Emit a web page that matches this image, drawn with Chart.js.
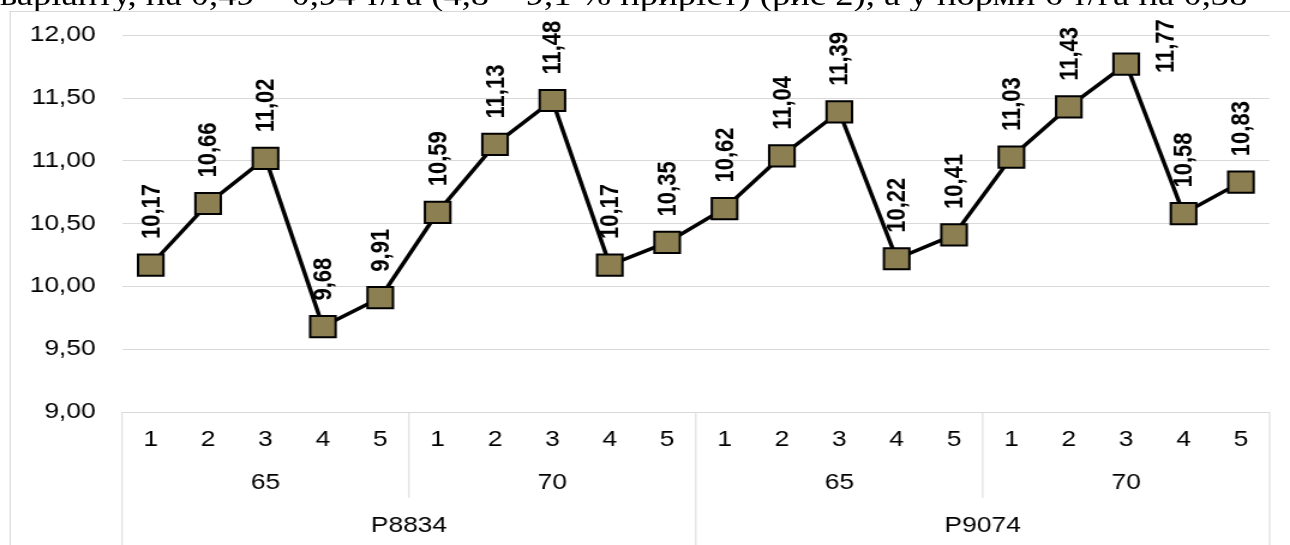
<!DOCTYPE html>
<html><head><meta charset="utf-8">
<script src="https://cdn.jsdelivr.net/npm/chart.js@4.4.1/dist/chart.umd.min.js"></script>
<style>
html,body{margin:0;padding:0;background:#fff;overflow:hidden;width:1290px;height:545px;}
#wrap{position:absolute;left:0;top:0;width:1075px;height:545px;transform:scaleX(1.2);transform-origin:0 0;overflow:hidden;}
#note{position:absolute;left:0;top:-20.5px;white-space:nowrap;font-family:"Liberation Serif","DejaVu Serif",serif;font-size:30.5px;line-height:30px;color:#000;}
#frame{position:absolute;left:8.3px;top:11px;width:1100px;height:600px;border-left:1px solid #d9d9d9;border-top:1px solid #d9d9d9;}
canvas{position:absolute;left:0;top:0;}
</style></head>
<body>
<div id="wrap">
  <div id="note">варіанту, на 0,49 – 0,94 т/га (4,8 – 9,1 % приріст) (рис 2), а у норми 6 т/га на 0,38</div>
  <div id="frame"></div>
  <canvas id="c" width="1075" height="545"></canvas>
</div>
<script>
const categories = ['1','2','3','4','5','1','2','3','4','5','1','2','3','4','5','1','2','3','4','5'];
const rates = ['65','70','65','70'];
const hybrids = ['P8834','P9074'];
const yields = [10.17,10.66,11.02,9.68,9.91, 10.59,11.13,11.48,10.17,10.35, 10.62,11.04,11.39,10.22,10.41, 11.03,11.43,11.77,10.58,10.83];
const yMin = 9, yMax = 12, yStep = 0.5;

const fmt = v => v.toFixed(2).replace('.', ',');
const FONT = '"Liberation Sans", Arial, sans-serif';

const groupAxis = {
  id: 'groupAxis',
  afterDraw(chart) {
    const ctx = chart.ctx, xs = chart.scales.x, ca = chart.chartArea;
    const top = ca.bottom, n = categories.length;
    const px = i => xs.getPixelForValue(i);
    const half = (px(1) - px(0)) / 2;
    const perRate = n / rates.length, perHybrid = n / hybrids.length;
    ctx.save();
    ctx.strokeStyle = '#d9d9d9'; ctx.lineWidth = 1;
    for (let b = 0; b <= n; b += perRate) {
      const x = b === 0 ? px(0) - half : (b === n ? px(n - 1) + half : (px(b - 1) + px(b)) / 2);
      const full = b % perHybrid === 0;
      ctx.beginPath();
      ctx.moveTo(x, top);
      ctx.lineTo(x, full ? chart.height : 498);
      ctx.stroke();
    }
    ctx.fillStyle = '#000';
    ctx.font = '22px ' + FONT;
    ctx.textAlign = 'center'; ctx.textBaseline = 'middle';
    categories.forEach((c, i) => ctx.fillText(c, px(i), 440));
    rates.forEach((r, g) => ctx.fillText(r, (px(g * perRate) + px(g * perRate + perRate - 1)) / 2, 483));
    hybrids.forEach((h, g) => ctx.fillText(h, (px(g * perHybrid) + px(g * perHybrid + perHybrid - 1)) / 2, 526));
    ctx.restore();
  }
};

const dataLabels = {
  id: 'dataLabels',
  afterDatasetsDraw(chart) {
    const ctx = chart.ctx;
    const meta = chart.getDatasetMeta(0);
    ctx.save();
    ctx.fillStyle = '#000';
    ctx.font = 'bold 22px ' + FONT;
    meta.data.forEach((pt, i) => {
      const txt = fmt(yields[i]);
      const w = ctx.measureText(txt).width;
      ctx.save();
      if (pt.y - 26 - w < 12) {
        // not enough room above: place to the right of the marker (as Excel does)
        ctx.translate(pt.x + 33, pt.y + 9);
      } else {
        ctx.translate(pt.x + 1, pt.y - 26);
      }
      ctx.rotate(-Math.PI / 2);
      ctx.textAlign = 'left'; ctx.textBaseline = 'middle';
      ctx.fillText(txt, 0, 0);
      ctx.restore();
    });
    ctx.restore();
  }
};

new Chart(document.getElementById('c'), {
  type: 'line',
  data: {
    labels: categories.map((c, i) => i),
    datasets: [{
      data: yields,
      borderColor: '#000',
      borderWidth: 3.5,
      tension: 0,
      pointStyle: 'rect',
      pointRadius: 15,
      pointBackgroundColor: '#8c7f52',
      pointBorderColor: '#000',
      pointBorderWidth: 2
    }]
  },
  options: {
    responsive: false,
    animation: false,
    layout: { padding: { top: 35, right: 12.5, left: 0, bottom: 0 } },
    plugins: { legend: { display: false }, tooltip: { enabled: false } },
    scales: {
      x: {
        type: 'category',
        offset: true,
        grid: { display: false },
        border: { display: false },
        ticks: { display: false },
        afterFit: s => { s.height = 133; }
      },
      y: {
        min: yMin, max: yMax,
        grid: { color: '#d9d9d9', lineWidth: 1, drawTicks: false },
        border: { display: false },
        ticks: { stepSize: yStep, padding: 22, color: '#000', font: { family: FONT, size: 22 }, callback: v => fmt(v) },
        afterFit: s => { s.width = 101.7; }
      }
    }
  },
  plugins: [groupAxis, dataLabels]
});
</script>
</body></html>
